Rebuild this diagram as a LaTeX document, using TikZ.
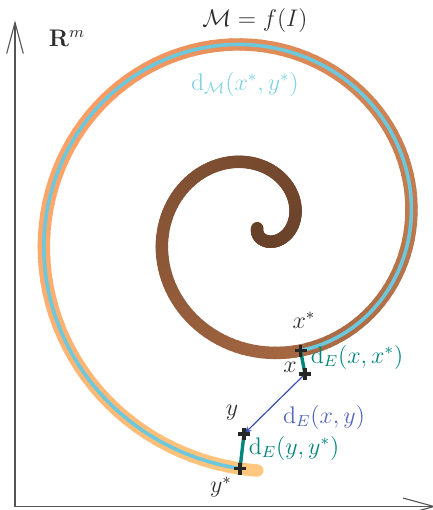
\documentclass[tikz,border=0pt]{standalone}
\usetikzlibrary{arrows.meta}
\definecolor{axisgray}{HTML}{555555}
\definecolor{txtgray}{HTML}{2E2E2E}
\definecolor{geocyan}{HTML}{6CC8DC}
\definecolor{geocyanlbl}{HTML}{80D2E6}
\definecolor{eucteal}{HTML}{00857F}
\definecolor{eucblue}{HTML}{3A4FB0}
\definecolor{euclbl}{HTML}{5266BC}
\tikzset{
  axis/.style={draw=axisgray, line width=0.55pt},
  geoline/.style={draw=geocyan, line width=1.8pt},
  tealline/.style={draw=eucteal, line width=1.7pt},
  blueline/.style={draw=eucblue, line width=0.6pt},
  crossmark/.style={draw=black!85, line width=1.6pt},
  lbl/.style={text=txtgray, inner sep=0pt, font=\fontsize{12}{14}\selectfont},
}
\begin{document}
\begin{tikzpicture}[x=0.5pt,y=-0.5pt]
\useasboundingbox (0,0) rectangle (433,510);
% axes
\coordinate (O) at (15,506.5);
\coordinate (ytip) at (15,22.5);
\coordinate (xtip) at (434,506.5);
\coordinate (yb1) at (6.7,53.5);
\coordinate (yb2) at (23.3,53.5);
\coordinate (xb1) at (403,498);
\coordinate (xb2) at (403,515);
\draw[axis] (O) -- (ytip);
\draw[axis] (O) -- (xtip);
\draw[axis] (yb1) -- (ytip) -- (yb2);
\draw[axis] (xb1) -- (xtip) -- (xb2);
% spiral with copper colouring
\foreach \i in {0,...,244} {
  \pgfmathsetmacro{\pa}{3*\i}
  \pgfmathsetmacro{\pb}{min(3*\i+3,733)}
  \pgfmathsetmacro{\pmid}{(\pa+\pb)/2}
  \pgfmathsetmacro{\cc}{0.325+0.675*(\pmid/733)^2}
  \pgfmathsetmacro{\cr}{min(1,1.25*\cc)}
  \pgfmathsetmacro{\cg}{0.7812*\cc}
  \pgfmathsetmacro{\cb}{0.4975*\cc}
  \definecolor{segc}{rgb}{\cr,\cg,\cb}
  \draw[segc, line width=6.2pt, line cap=round]
    plot[domain=\pa:\pb, samples=3, variable=\t]
    ({257.25+0.33056*\t*cos(\t-103)},{228.2-0.33056*\t*sin(\t-103)});
}
% geodesic along manifold
\draw[geoline] plot[domain=392.5:728.9, samples=160, variable=\t]
  ({257.25+0.33056*\t*cos(\t-103)},{228.2-0.33056*\t*sin(\t-103)});
% points
\coordinate (xs) at ({257.25+0.33056*392.5*cos(392.5-103)},{228.2-0.33056*392.5*sin(392.5-103)});
\coordinate (ys) at ({257.25+0.33056*728.9*cos(728.9-103)},{228.2-0.33056*728.9*sin(728.9-103)});
\coordinate (xp) at (305,374);
\coordinate (yp) at (244,434);
\draw[tealline] (xs) -- (xp);
\draw[tealline] (yp) -- (ys);
\draw[blueline, -{Stealth[length=4pt,width=3pt]}] (xp) -- (yp);
\foreach \p in {xs,xp,yp,ys} {
  \draw[crossmark] (\p) ++(-6,0) -- ++(12,0);
  \draw[crossmark] (\p) ++(0,-6) -- ++(0,12);
}
% labels
\node[lbl] (rm) at (67,38) {$\mathbf{R}^m$};
\node[lbl] (mf) at (255,20) {$\mathcal{M} = f(I)$};
\node[lbl, text=geocyanlbl] (dm) at (245,84) {$\mathrm{d}_{\mathcal{M}}(x^*,y^*)$};
\node[lbl] (lxs) at (304,320) {$x^*$};
\node[lbl] (lx) at (290,367) {$x$};
\node[lbl, text=eucteal] (dxx) at (357,357) {$\mathrm{d}_E(x,x^*)$};
\node[lbl] (ly) at (232,413) {$y$};
\node[lbl, text=euclbl] (dxy) at (324,417) {$\mathrm{d}_E(x,y)$};
\node[lbl, text=eucteal] (dyy) at (294,448) {$\mathrm{d}_E(y,y^*)$};
\node[lbl] (lys) at (221,487) {$y^*$};
\end{tikzpicture}
\end{document}
